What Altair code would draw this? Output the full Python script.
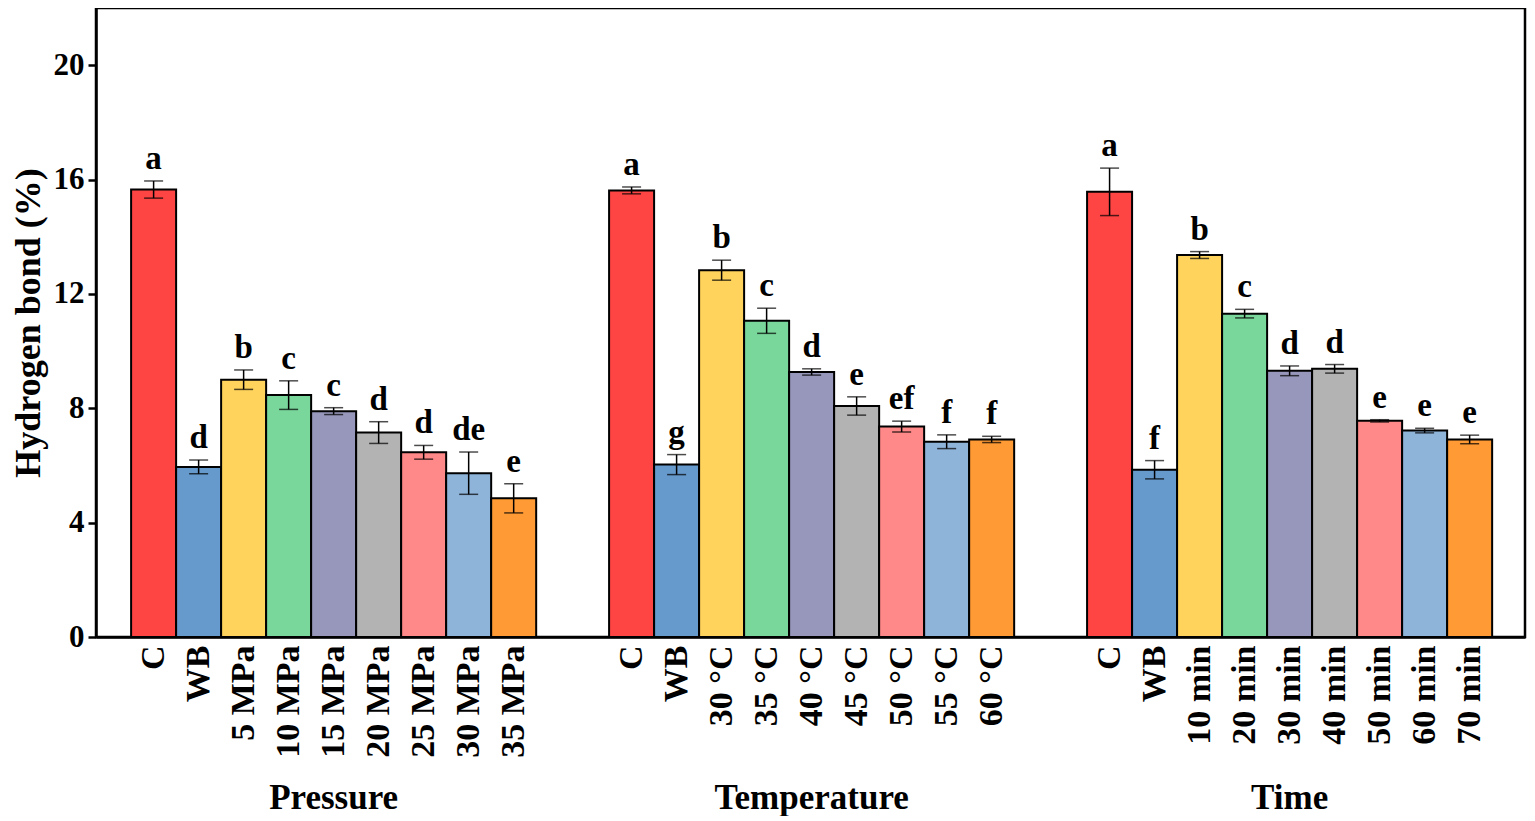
import altair as alt
import pandas as pd

# ---- data ----
groups = ["Pressure", "Temperature", "Time"]

labels_p = ["C", "WB", "5 MPa", "10 MPa", "15 MPa", "20 MPa", "25 MPa", "30 MPa", "35 MPa"]
values_p = [15.65, 5.95, 9.00, 8.46, 7.90, 7.15, 6.46, 5.73, 4.85]
err_p = [0.30, 0.24, 0.34, 0.50, 0.12, 0.38, 0.24, 0.74, 0.51]
sig_p = ["a", "d", "b", "c", "c", "d", "d", "de", "e"]

labels_t = ["C", "WB", "30 °C", "35 °C", "40 °C", "45 °C", "50 °C", "55 °C", "60 °C"]
values_t = [15.62, 6.03, 12.83, 11.06, 9.27, 8.08, 7.36, 6.83, 6.91]
err_t = [0.12, 0.35, 0.35, 0.44, 0.11, 0.32, 0.19, 0.24, 0.11]
sig_t = ["a", "g", "b", "c", "d", "e", "ef", "f", "f"]

labels_m = ["C", "WB", "10 min", "20 min", "30 min", "40 min", "50 min", "60 min", "70 min"]
values_m = [15.57, 5.85, 13.36, 11.31, 9.31, 9.38, 7.56, 7.22, 6.91]
err_m = [0.83, 0.32, 0.12, 0.15, 0.17, 0.15, 0.04, 0.08, 0.15]
sig_m = ["a", "f", "b", "c", "d", "d", "e", "e", "e"]

colors = ["#FF4444", "#6699CC", "#FFD35C", "#7AD79C", "#9797BB",
          "#B3B3B3", "#FF8888", "#8FB4DA", "#FF9A35"]

# ---- layout constants (in bar-width units) ----
OFFSET = 0.78
STEP = 10.62
XMAX = 31.75

rows = []
for g, (labs, vals, errs, sigs) in enumerate([
        (labels_p, values_p, err_p, sig_p),
        (labels_t, values_t, err_t, sig_t),
        (labels_m, values_m, err_m, sig_m)]):
    for i in range(len(labs)):
        rows.append({"g": g, "i": i, "label": labs[i], "value": vals[i],
                     "err": errs[i], "sig": sigs[i]})
df = pd.DataFrame(rows)
gdf = pd.DataFrame({"g": list(range(len(groups))), "group": groups})

all_labels = labels_p + labels_t + labels_m
centers = [OFFSET + g * STEP + i + 0.5 for g in range(3) for i in range(9)]
label_js = "[" + ",".join("'" + s + "'" for s in all_labels) + "]"
label_expr = (f"{label_js}[floor(datum.value/{STEP})*9 + "
              f"round(datum.value - {OFFSET + 0.5} - floor(datum.value/{STEP})*{STEP})]")

FONT = "Liberation Serif"

base = alt.Chart(df).transform_calculate(
    x0=f"{OFFSET} + datum.g*{STEP} + datum.i",
    x1=f"{OFFSET} + datum.g*{STEP} + datum.i + 1",
    xc=f"{OFFSET} + datum.g*{STEP} + datum.i + 0.5",
    lo="datum.value - datum.err",
    hi="datum.value + datum.err",
)

xscale = alt.Scale(domain=[0, XMAX], nice=False, zero=False)
yscale = alt.Scale(domain=[0, 22], nice=False)

bars = base.mark_bar(stroke="black", strokeWidth=2).encode(
    x=alt.X("x0:Q", scale=xscale,
            axis=alt.Axis(values=centers, labelExpr=label_expr, labelAngle=270,
                          ticks=False, grid=False, title=None, labelPadding=8,
                          labelFontSize=34, labelFont=FONT, labelFontWeight="bold",
                          labelColor="black", labelOverlap=False, labelFlush=False,
                          labelBound=False, domainColor="black", domainWidth=2.5)),
    x2="x1:Q",
    y=alt.Y("value:Q", scale=yscale,
            axis=alt.Axis(values=[0, 4, 8, 12, 16, 20], grid=False,
                          title="Hydrogen bond (%)", titleFont=FONT, titleFontSize=36,
                          titleFontWeight="bold", titleColor="black", titlePadding=6,
                          labelFont=FONT, labelFontSize=31, labelFontWeight="bold",
                          labelColor="black", labelPadding=4, tickSize=8,
                          tickWidth=2.5, tickColor="black", domainColor="black",
                          domainWidth=2.5)),
    y2=alt.value(629),
    color=alt.Color("i:N", scale=alt.Scale(domain=list(range(9)), range=colors),
                    legend=None),
)

rules = base.mark_rule(color="black", strokeWidth=1.5).encode(
    x=alt.X("xc:Q", scale=xscale), y=alt.Y("lo:Q", scale=yscale), y2="hi:Q")

cap_hi = base.mark_tick(color="black", orient="horizontal", size=19, thickness=1.5).encode(
    x=alt.X("xc:Q", scale=xscale), y=alt.Y("hi:Q", scale=yscale))
cap_lo = base.mark_tick(color="black", orient="horizontal", size=19, thickness=1.5).encode(
    x=alt.X("xc:Q", scale=xscale), y=alt.Y("lo:Q", scale=yscale))

letters = base.mark_text(font=FONT, fontSize=33, fontWeight="bold", color="black",
                         baseline="bottom", dy=-5).encode(
    x=alt.X("xc:Q", scale=xscale), y=alt.Y("hi:Q", scale=yscale), text="sig:N")

gtitles = alt.Chart(gdf).transform_calculate(
    xc=f"{OFFSET} + datum.g*{STEP} + 4.5"
).mark_text(font=FONT, fontSize=35, fontWeight="bold", color="black",
            baseline="alphabetic").encode(
    x=alt.X("xc:Q", scale=xscale), y=alt.value(801), text="group:N")

chart = alt.layer(bars, rules, cap_hi, cap_lo, letters, gtitles).properties(
    width=1429, height=629,
    background="white",
    padding={"left": 2, "top": 0, "right": 2, "bottom": 0},
).configure_view(stroke="black", strokeWidth=2.5)

chart.save("out.html", embed_options={"renderer": "svg", "actions": False})
